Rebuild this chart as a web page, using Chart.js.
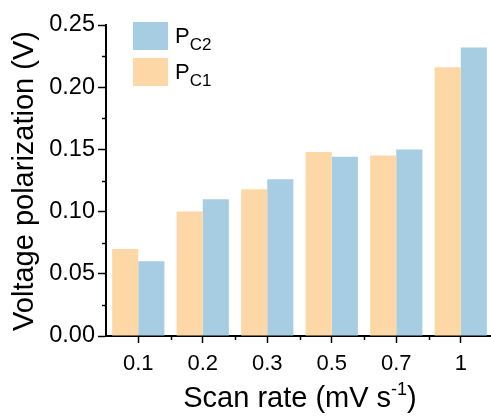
<!DOCTYPE html>
<html>
<head>
<meta charset="utf-8">
<script src="https://cdn.jsdelivr.net/npm/chart.js@4/dist/chart.umd.min.js"></script>
<style>
  html, body { margin: 0; padding: 0; background: #fff; overflow: hidden; }
  #wrap { position: relative; width: 495px; height: 418px; }
</style>
</head>
<body>
<div id="wrap"><canvas id="chart"></canvas></div>
<script>
const scanRates = ["0.1", "0.2", "0.3", "0.5", "0.7", "1"];
const pc1 = [0.070, 0.100, 0.118, 0.148, 0.145, 0.216];
const pc2 = [0.060, 0.110, 0.126, 0.144, 0.150, 0.232];
const yTicks = [0, 0.05, 0.10, 0.15, 0.20, 0.25];

const ORANGE = "#fdd8a6";
const BLUE = "#a7cde2";
const FONT = "'Liberation Sans', Arial, sans-serif";

// minor ticks, legend with subscripts, axis titles
const extras = {
  id: "extras",
  afterDraw(chart) {
    const ctx = chart.ctx;
    const x = chart.scales.x;
    const y = chart.scales.y;
    const area = chart.chartArea;
    ctx.save();
    ctx.strokeStyle = "#000";
    ctx.lineWidth = 1.5;
    // minor y ticks halfway between labelled ones
    for (let i = 0; i < yTicks.length - 1; i++) {
      const py = Math.round(y.getPixelForValue((yTicks[i] + yTicks[i + 1]) / 2)) + 0.5;
      ctx.beginPath();
      ctx.moveTo(area.left - 4, py);
      ctx.lineTo(area.left, py);
      ctx.stroke();
    }
    // minor x ticks on category boundaries
    for (let i = 0; i < scanRates.length - 1; i++) {
      const px = Math.round((x.getPixelForTick(i) + x.getPixelForTick(i + 1)) / 2) + 0.5;
      ctx.beginPath();
      ctx.moveTo(px, area.bottom);
      ctx.lineTo(px, area.bottom + 4);
      ctx.stroke();
    }

    // legend
    const items = [
      { color: BLUE, main: "P", sub: "C2" },
      { color: ORANGE, main: "P", sub: "C1" },
    ];
    items.forEach((it, i) => {
      const top = 22 + i * 36;
      ctx.fillStyle = it.color;
      ctx.fillRect(133, top, 35, 28);
      ctx.fillStyle = "#000";
      ctx.textBaseline = "alphabetic";
      ctx.textAlign = "left";
      ctx.font = "22px " + FONT;
      ctx.fillText(it.main, 175, top + 21);
      const w = ctx.measureText(it.main).width;
      ctx.font = "17px " + FONT;
      ctx.fillText(it.sub, 175 + w, top + 28);
    });

    // x title with superscript
    ctx.fillStyle = "#000";
    ctx.font = "29px " + FONT;
    const a = "Scan rate (mV s";
    const b = ")";
    const sup = "-1";
    const wa = ctx.measureText(a).width;
    const wb = ctx.measureText(b).width;
    ctx.font = "18px " + FONT;
    const ws = ctx.measureText(sup).width;
    const total = wa + ws + wb;
    let sx = 300 - total / 2;
    const base = 407;
    ctx.font = "29px " + FONT;
    ctx.fillText(a, sx, base);
    ctx.font = "18px " + FONT;
    ctx.fillText(sup, sx + wa, base - 12);
    ctx.font = "29px " + FONT;
    ctx.fillText(b, sx + wa + ws, base);

    // y title
    ctx.translate(25, 181);
    ctx.rotate(-Math.PI / 2);
    ctx.textAlign = "center";
    ctx.textBaseline = "middle";
    ctx.font = "29px " + FONT;
    ctx.fillText("Voltage polarization (V)", 0, 0);
    ctx.restore();
  },
};

new Chart(document.getElementById("chart"), {
  type: "bar",
  data: {
    labels: scanRates,
    datasets: [
      { label: "PC1", data: pc1, backgroundColor: ORANGE },
      { label: "PC2", data: pc2, backgroundColor: BLUE },
    ],
  },
  options: {
    responsive: true,
    maintainAspectRatio: false,
    animation: false,
    layout: { padding: { top: 25, right: 2, left: 0, bottom: 0 } },
    datasets: { bar: { categoryPercentage: 0.81, barPercentage: 1 } },
    plugins: { legend: { display: false }, tooltip: { enabled: false } },
    scales: {
      x: {
        grid: { offset: false, drawOnChartArea: false, color: "#000", tickLength: 7, tickWidth: 1.5 },
        border: { display: true, color: "#000", width: 2 },
        ticks: { color: "#000", font: { family: FONT, size: 22 }, padding: 8, maxRotation: 0 },
        afterFit: (s) => { s.height = 82; },
      },
      y: {
        min: 0,
        max: 0.25,
        afterBuildTicks: (s) => { s.ticks = yTicks.map((v) => ({ value: v })); },
        grid: { drawOnChartArea: false, color: "#000", tickLength: 8, tickWidth: 1.5 },
        border: { display: true, color: "#000", width: 2 },
        ticks: {
          color: "#000",
          font: { family: FONT, size: 23.5 },
          padding: 3,
          callback: (v) => v.toFixed(2),
        },
        afterFit: (s) => { s.width = 106; },
      },
    },
  },
  plugins: [extras],
});
</script>
</body>
</html>
